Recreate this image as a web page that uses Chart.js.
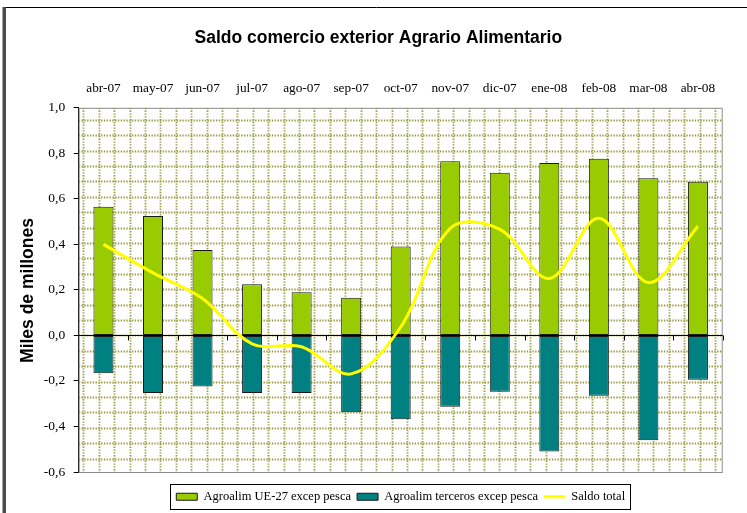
<!DOCTYPE html>
<html>
<head>
<meta charset="utf-8">
<script src="https://cdn.jsdelivr.net/npm/chart.js@4/dist/chart.umd.min.js"></script>
<style>
html,body{margin:0;padding:0;background:#fff;}
#wrap{width:747px;height:513px;position:relative;overflow:hidden;}
canvas{display:block;}
</style>
</head>
<body>
<div id="wrap"><canvas id="c" width="747" height="513"></canvas></div>
<script>
const months = ['abr-07','may-07','jun-07','jul-07','ago-07','sep-07','oct-07','nov-07','dic-07','ene-08','feb-08','mar-08','abr-08'];
const ue27 = [0.565,0.525,0.375,0.225,0.19,0.166,0.391,0.765,0.715,0.757,0.776,0.691,0.675];
const terceros = [-0.166,-0.253,-0.224,-0.253,-0.253,-0.338,-0.368,-0.313,-0.247,-0.51,-0.265,-0.46,-0.195];
const saldo = [0.40,0.275,0.162,-0.037,-0.05,-0.169,0.037,0.47,0.466,0.25,0.515,0.232,0.48];
const yTickValues = [-0.6,-0.4,-0.2,0.0,0.2,0.4,0.6,0.8,1.0];
const seriesNames = ['Agroalim UE-27 excep pesca','Agroalim terceros excep pesca','Saldo total'];
const chartTitle = 'Saldo comercio exterior Agrario Alimentario';
const yTitle = 'Miles de millones';

const serif = "'Liberation Serif','Times New Roman',serif";
const sans = "'Liberation Sans',Arial,sans-serif";

const decor = {
  id: 'decor',
  beforeDraw(chart) {
    const ctx = chart.ctx;
    ctx.save();
    ctx.fillStyle = '#fff';
    ctx.fillRect(0, 0, chart.width, chart.height);
    ctx.fillStyle = '#4a4a4a';
    ctx.fillRect(2.5, 7, 3.5, chart.height);
    ctx.strokeStyle = '#000';
    ctx.lineWidth = 1;
    ctx.beginPath();
    ctx.moveTo(6, 7.5);
    ctx.lineTo(chart.width, 7.5);
    ctx.stroke();
    ctx.restore();
  },
  beforeDatasetsDraw(chart) {
    const ctx = chart.ctx;
    const a = chart.chartArea;
    const y = chart.scales.y, x = chart.scales.x;
    const zero = y.getPixelForValue(0);
    const step = 15.41;
    ctx.save();
    ctx.beginPath();
    ctx.rect(a.left, a.top, a.right - a.left, a.bottom - a.top);
    ctx.clip();
    ctx.strokeStyle = '#9c9c44';
    ctx.lineWidth = 1.8;
    ctx.setLineDash([1.4, 1.4]);
    let gy = zero;
    while (gy - step > a.top) gy -= step;
    for (; gy < a.bottom; gy += step) {
      ctx.beginPath();
      ctx.moveTo(a.left, Math.round(gy) + 0.5);
      ctx.lineTo(a.right, Math.round(gy) + 0.5);
      ctx.stroke();
    }
    for (let gx = a.left + 4.6; gx < a.right; gx += step) {
      ctx.beginPath();
      ctx.moveTo(Math.round(gx) + 0.5, a.top);
      ctx.lineTo(Math.round(gx) + 0.5, a.bottom);
      ctx.stroke();
    }
    ctx.restore();
    ctx.save();
    ctx.strokeStyle = '#8c8c8c';
    ctx.lineWidth = 1;
    ctx.strokeRect(a.left + 0.5, a.top + 0.5, a.right - a.left - 1, a.bottom - a.top);
    ctx.strokeStyle = '#000';
    ctx.beginPath();
    ctx.moveTo(a.left, Math.round(zero) + 0.5);
    ctx.lineTo(a.right, Math.round(zero) + 0.5);
    for (let i = 0; i < months.length; i++) {
      const b = (x.getPixelForValue(i) + (i + 1 < months.length ? x.getPixelForValue(i + 1) : 2 * x.getPixelForValue(i) - x.getPixelForValue(i - 1))) / 2;
      ctx.moveTo(Math.round(b) + 0.5, zero);
      ctx.lineTo(Math.round(b) + 0.5, zero + 5);
    }
    ctx.stroke();
    ctx.restore();
  },
  afterDraw(chart) {
    const ctx = chart.ctx;
    ctx.save();
    ctx.translate(28.5, 290.5);
    ctx.rotate(-Math.PI / 2);
    ctx.font = 'bold 17.5px ' + sans;
    ctx.fillStyle = '#000';
    ctx.textAlign = 'center';
    ctx.textBaseline = 'middle';
    ctx.fillText(yTitle, 0, 0);
    ctx.restore();
    const lg = chart.legend;
    if (lg && lg.legendHitBoxes && lg.legendHitBoxes.length) {
      let l = Infinity, r = -Infinity, t = Infinity, bt = -Infinity;
      lg.legendHitBoxes.forEach(h => {
        l = Math.min(l, h.left); r = Math.max(r, h.left + h.width);
        t = Math.min(t, h.top); bt = Math.max(bt, h.top + h.height);
      });
      ctx.save();
      ctx.strokeStyle = '#000';
      ctx.lineWidth = 1;
      ctx.strokeRect(Math.round(l - 6) + 0.5, Math.round(t - 7) + 0.5, Math.round(r - l + 11), Math.round(bt - t + 12));
      ctx.restore();
    }
  }
};

new Chart(document.getElementById('c'), {
  data: {
    labels: months,
    datasets: [
      {type:'bar', label: seriesNames[0], data: ue27, backgroundColor:'#99cc00', borderColor:'#1a1a1a', borderWidth:1, borderSkipped:false, stack:'s', order:1, pointStyle:'rect'},
      {type:'bar', label: seriesNames[1], data: terceros, backgroundColor:'#008080', borderColor:'#1a1a1a', borderWidth:1, borderSkipped:false, stack:'s', order:1, pointStyle:'rect'},
      {type:'line', label: seriesNames[2], data: saldo, borderColor:'#ffff00', backgroundColor:'#ffff00', borderWidth:3, pointRadius:0, tension:0.36, order:0, pointStyle:'line'}
    ]
  },
  options: {
    responsive:false,
    animation:false,
    devicePixelRatio:1,
    layout:{padding:{left:34, right:24.3, top:0, bottom:0}},
    plugins:{
      title:{display:true, text:chartTitle, color:'#000', font:{family:sans, size:17.5, weight:'bold'}, padding:{top:28, bottom:8}},
      legend:{
        position:'bottom', fullSize:false,
        title:{display:true, text:' ', font:{size:10}, padding:{top:0.5, bottom:0}},
        labels:{
          color:'#000', font:{family:serif, size:12.5},
          usePointStyle:true, pointStyleWidth:21, boxWidth:21, boxHeight:7, padding:6,
          sort:(a,b)=>a.datasetIndex-b.datasetIndex
        }
      },
      tooltip:{enabled:false}
    },
    scales:{
      x:{
        position:'top', stacked:true,
        grid:{display:false}, border:{display:false},
        ticks:{color:'#000', font:{family:serif, size:13.3}, padding:3, maxRotation:0, autoSkip:false},
        afterFit(s){ s.height = 50.8; }
      },
      y:{
        stacked:true, min:-0.6, max:1.0,
        afterBuildTicks(s){ s.ticks = yTickValues.map(v => ({value:v})); },
        ticks:{color:'#000', font:{family:serif, size:13.5}, padding:8.5,
          callback:v => (Math.round(v*10)/10).toFixed(1).replace('.', ',')},
        grid:{drawOnChartArea:false, tickLength:5, color:'#000'},
        border:{color:'#000', width:1},
        afterFit(s){ s.width = 78.7 - 34; }
      }
    },
    datasets:{bar:{barPercentage:0.404, categoryPercentage:1}}
  },
  plugins:[decor]
});
</script>
</body>
</html>
